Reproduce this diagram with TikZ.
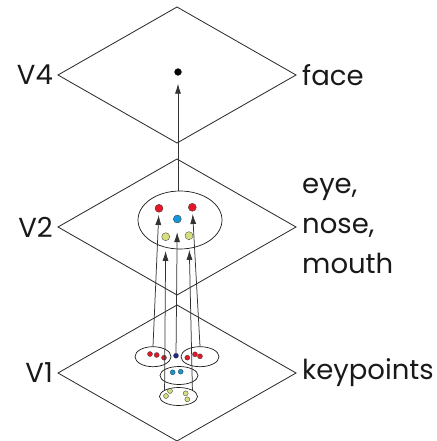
\documentclass[tikz,border=0pt]{standalone}
\usepackage{fontspec}
\setmainfont{Poppins}
\usetikzlibrary{shapes.geometric,arrows.meta}
\definecolor{kpred}{RGB}{228,24,40}
\definecolor{kpblue}{RGB}{20,150,215}
\definecolor{kpyellow}{RGB}{214,222,128}
\definecolor{kpnavy}{RGB}{35,40,140}
\newcommand{\layer}[3]{\node[area] (#1) at #2 {};
  \node[lab,anchor=east] (#1name) at ([xshift=-5pt]#1.west) {#3};}

\begin{document}
\begin{tikzpicture}[x=1pt,y=-1pt]
  \tikzset{area/.style={diamond,draw=black!90,line width=0.75pt,inner sep=0pt,outer sep=0pt,
                        minimum width=238pt,minimum height=136pt},
           blob/.style={ellipse,draw=black!90,line width=0.7pt,inner sep=0pt},
           spot/.style={circle,draw=black!80,line width=0.3pt,inner sep=0pt,minimum size=#1},
           feed/.style={draw=black!80,line width=0.75pt,-{Latex[length=10pt,width=6pt]}},
           lab/.style={font=\fontsize{27.5}{40}\selectfont,text=black!90,inner sep=0pt}}
  \useasboundingbox (0,0) rectangle (436,441);

  \layer{vfour}{(177,75)}{V4}
  \layer{vtwo}{(177,227)}{V2}
  \layer{vone}{(177,373)}{V1}
  \node[lab,anchor=west] (face) at ([xshift=6pt]vfour.east) {face};
  \node[lab,anchor=west,align=left] (parts) at ([xshift=6pt,yshift=1pt]vtwo.east) {eye,\\nose,\\mouth};
  \node[lab,anchor=west] (kp) at ([xshift=6pt]vone.east) {keypoints};

  % V4
  \node[spot=7pt,fill=black] (facedot) at (178,72) {};

  % V2
  \node[blob,minimum width=84pt,minimum height=58pt] (cluster) at (180,220) {};
  \node[spot=8pt,fill=kpred] (eyeL) at (159,208.3) {};
  \node[spot=8pt,fill=kpred] (eyeR) at (192.3,207.3) {};
  \node[spot=8pt,fill=kpblue] (nose) at (177.3,219) {};
  \node[spot=8pt,fill=kpyellow] (mouthL) at (165.7,236.7) {};
  \node[spot=8pt,fill=kpyellow] (mouthR) at (189,235.7) {};

  % V1
  \node[blob,minimum width=36pt,minimum height=20pt] (redL) at (153,356.7) {};
  \node[blob,minimum width=38pt,minimum height=20pt] (redR) at (200,356.7) {};
  \node[blob,minimum width=38pt,minimum height=18pt] (blue) at (179,375.5) {};
  \node[blob,minimum width=38pt,minimum height=18pt] (yel) at (178.5,396.5) {};
  \foreach \x/\y in {150/354,156.7/355,164/357.7,187.3/357.7,195/354.3,200/356.3}
    \node[spot=5pt,fill=kpred] at (\x,\y) {};
  \foreach \x/\y in {172.7/372.3,180.7/371.7}
    \node[spot=5pt,fill=kpblue] at (\x,\y) {};
  \foreach \x/\y in {170/391,166/396,185.7/393.3,187.3/399.3}
    \node[spot=5pt,fill=kpyellow] at (\x,\y) {};
  \node[spot=5pt,fill=kpnavy] (mid) at (176,355.7) {};

  \draw[feed,shorten >=2.5pt] (redL.north) -- (eyeL);
  \draw[feed,shorten >=2.5pt] (redR.north) -- (eyeR);
  \draw[feed,shorten >=9pt] (mid) -- (nose);
  \draw[feed,shorten >=10pt] (yel.155) -- (mouthL);
  \draw[feed,shorten >=10pt] (yel.25) -- (mouthR);
  \draw[feed,shorten >=8pt] (facedot |- cluster.north) -- (facedot);
\end{tikzpicture}
\end{document}
